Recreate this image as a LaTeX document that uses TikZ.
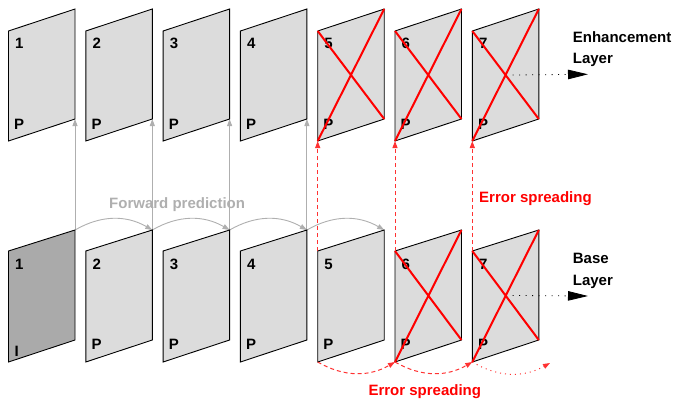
\documentclass[tikz,border=0pt]{standalone}
\usepackage{fontspec}
\setmainfont{Liberation Sans}
\usetikzlibrary{arrows.meta,calc}
\definecolor{framefill}{RGB}{220,220,220}
\definecolor{ifill}{RGB}{170,170,170}
\definecolor{predgray}{RGB}{175,175,175}
\definecolor{errred}{RGB}{255,0,0}
\definecolor{softred}{RGB}{255,50,50}
\begin{document}
\begin{tikzpicture}[x=1pt,y=-1pt,
  every node/.style={font=\bfseries\fontsize{15}{18}\selectfont, inner sep=0pt},
  frame/.style={draw=black, line width=0.9pt, fill=framefill, line join=miter},
  iframe/.style={frame, fill=ifill},
  cross/.style={draw=errred, line width=2pt},
  predarrow/.style={draw=predgray, line width=0.9pt, -{Triangle[length=7pt,width=5pt]}},
  errvert/.style={draw=softred, line width=1pt, dash pattern=on 4pt off 3pt, -{Triangle[length=7pt,width=5pt]}},
  errarc/.style={draw=softred, line width=1pt, dash pattern=on 4pt off 3pt, -{Triangle[length=7pt,width=5pt]}},
  errarcdot/.style={draw=softred, line width=1pt, dash pattern=on 1pt off 4pt, -{Triangle[length=7pt,width=5pt]}},
  outarrow/.style={draw=black, line width=0.8pt, dash pattern=on 1pt off 5.5pt, -{Triangle[length=20pt,width=9.5pt]}},
  lbl/.style={anchor=base west},
  errlbl/.style={anchor=base west, text=errred},
  predlbl/.style={anchor=base west, text=predgray}
]
\useasboundingbox (0,0) rectangle (673,400);

% corner coordinates of all frames
\foreach \i in {1,...,7}{
  \pgfmathsetmacro\xl{8.5+77.3*(\i-1)}
  \pgfmathsetmacro\xr{\xl+66.5}
  \coordinate (t\i-tl) at (\xl,31);
  \coordinate (t\i-tr) at (\xr,9);
  \coordinate (t\i-br) at (\xr,119);
  \coordinate (t\i-bl) at (\xl,141);
  \coordinate (b\i-tl) at (\xl,251);
  \coordinate (b\i-tr) at (\xr,230);
  \coordinate (b\i-br) at (\xr,340);
  \coordinate (b\i-bl) at (\xl,362);
}

% forward prediction (behind frames)
\foreach \i in {1,...,4}{
  \draw[predarrow] (b\i-tr) -- (t\i-br);
}
\foreach \i/\j in {1/2,2/3,3/4,4/5}{
  \draw[predarrow] (b\i-tr) to[bend left=30] (b\j-tr);
}
\node[predlbl] (fwd) at (109,208.3) {Forward prediction};

% frames
\foreach \i in {1,...,7}{
  \draw[frame] (t\i-tl) -- (t\i-tr) -- (t\i-br) -- (t\i-bl) -- cycle;
}
\draw[iframe] (b1-tl) -- (b1-tr) -- (b1-br) -- (b1-bl) -- cycle;
\foreach \i in {2,...,7}{
  \draw[frame] (b\i-tl) -- (b\i-tr) -- (b\i-br) -- (b\i-bl) -- cycle;
}

% frame labels
\foreach \i in {1,...,7}{
  \node[lbl] (tn\i) at ($(t\i-tl)+(6.5,17)$) {\i};
  \node[lbl] (tp\i) at ($(t\i-bl)+(5.5,-12)$) {P};
  \node[lbl] (bn\i) at ($(b\i-tl)+(6.5,18)$) {\i};
}
\node[lbl] (bp1) at ($(b1-bl)+(6,-5.5)$) {I};
\foreach \i in {2,...,7}{
  \node[lbl] (bp\i) at ($(b\i-bl)+(5.5,-13)$) {P};
}

% crosses
\foreach \i in {5,6,7}{
  \draw[cross] (t\i-tl) -- (t\i-br) (t\i-bl) -- (t\i-tr);
}
\foreach \i in {6,7}{
  \draw[cross] (b\i-tl) -- (b\i-br) (b\i-bl) -- (b\i-tr);
}

% error spreading upward
\foreach \i in {5,6,7}{
  \draw[errvert] (b\i-tl) -- (t\i-bl);
}
\node[errlbl] (errtop) at (479,202.5) {Error spreading};

% error spreading along base layer
\coordinate (b8-bl) at (550,363);
\draw[errarc] (b5-bl) to[bend right=30] (b6-bl);
\draw[errarc] (b6-bl) to[bend right=30] (b7-bl);
\draw[errarcdot] (b7-bl) to[bend right=30] (b8-bl);
\node[errlbl] (errbot) at (368.3,395.7) {Error spreading};

% outputs
\coordinate (t7-c) at ($(t7-tl)!0.5!(t7-br)$);
\coordinate (b7-c) at ($(b7-tl)!0.5!(b7-br)$);
\coordinate (enh-end) at (588,74.3);
\coordinate (base-end) at (588,296);
\draw[outarrow] ($(t7-c)+(7,0)$) -- (enh-end);
\draw[outarrow] ($(b7-c)+(7,0)$) -- (base-end);
\node[lbl] (enh1) at (572.7,42.3) {Enhancement};
\node[lbl] (enh2) at (572.7,63.3) {Layer};
\node[lbl] (base1) at (572.7,263.3) {Base};
\node[lbl] (base2) at (572.7,285.7) {Layer};
\end{tikzpicture}
\end{document}
